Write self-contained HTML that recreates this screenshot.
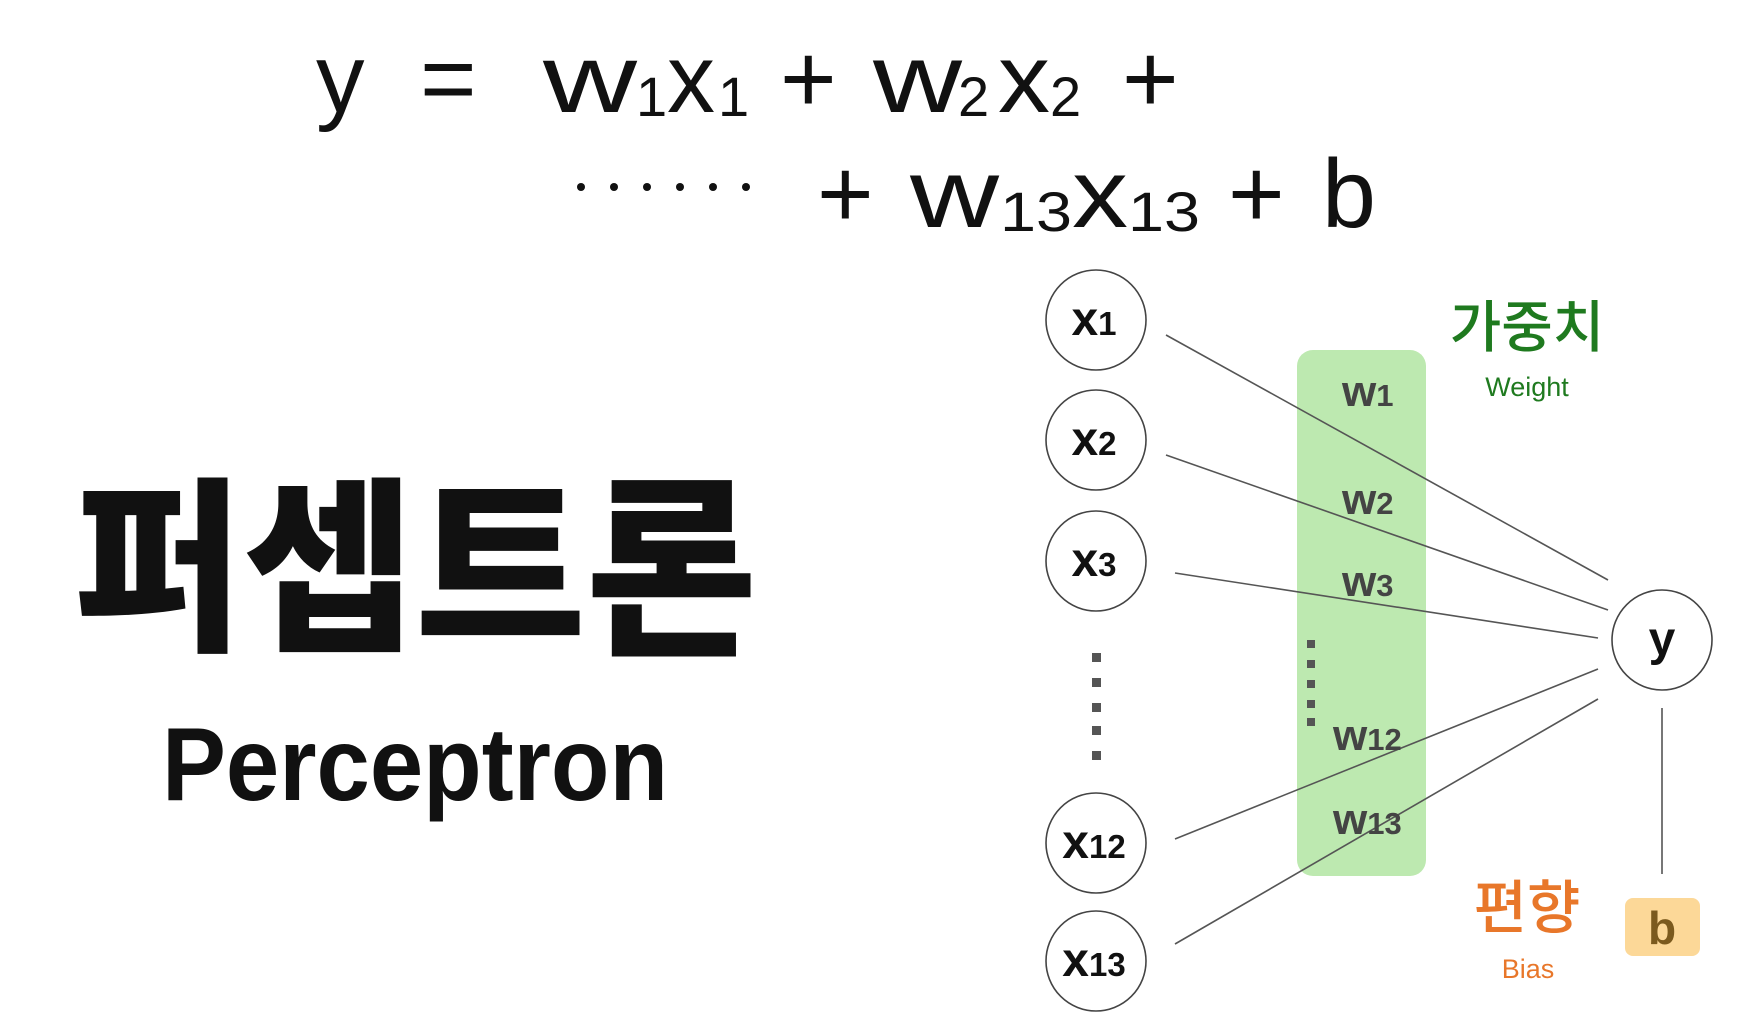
<!DOCTYPE html>
<html><head><meta charset="utf-8"><style>
html,body{margin:0;padding:0;background:#fff;}
svg{display:block;}
</style></head><body>
<svg width="1743" height="1016" viewBox="0 0 1743 1016" xmlns="http://www.w3.org/2000/svg">
<g font-family="Liberation Sans, sans-serif" fill="#111">
  <text x="316" y="112" font-size="97">y</text>
  <text x="420" y="112" font-size="97">=</text>
  <text x="543" y="112" font-size="97" textLength="94" lengthAdjust="spacingAndGlyphs">w</text>
  <text x="636" y="116" font-size="56">1</text>
  <text x="667" y="112" font-size="97" textLength="48" lengthAdjust="spacingAndGlyphs">x</text>
  <text x="718" y="116" font-size="56">1</text>
  <text x="780" y="112" font-size="97">+</text>
  <text x="873" y="112" font-size="97" textLength="89" lengthAdjust="spacingAndGlyphs">w</text>
  <text x="958" y="116" font-size="56">2</text>
  <text x="998" y="112" font-size="97" textLength="52" lengthAdjust="spacingAndGlyphs">x</text>
  <text x="1050" y="116" font-size="56">2</text>
  <text x="1122" y="112" font-size="97">+</text>
  <g fill="#111">
    <circle cx="581" cy="187" r="4"/><circle cx="614" cy="187" r="4"/><circle cx="647" cy="187" r="4"/>
    <circle cx="680" cy="187" r="4"/><circle cx="713" cy="187" r="4"/><circle cx="746" cy="187" r="4"/>
  </g>
  <text x="817" y="227" font-size="97">+</text>
  <text x="910" y="227" font-size="97" textLength="89" lengthAdjust="spacingAndGlyphs">w</text>
  <text x="1000" y="231" font-size="56" textLength="72" lengthAdjust="spacingAndGlyphs">13</text>
  <text x="1072" y="227" font-size="97" textLength="56" lengthAdjust="spacingAndGlyphs">x</text>
  <text x="1128" y="231" font-size="56" textLength="72" lengthAdjust="spacingAndGlyphs">13</text>
  <text x="1228" y="227" font-size="97">+</text>
  <text x="1322" y="227" font-size="97">b</text>
</g>

<text x="73" y="636" font-family="Noto Sans CJK KR, sans-serif" font-weight="900" font-size="188" textLength="684" lengthAdjust="spacingAndGlyphs" fill="#111">퍼셉트론</text>
<text x="162" y="800" font-family="Liberation Sans, sans-serif" font-weight="bold" font-size="104" textLength="506" lengthAdjust="spacingAndGlyphs" fill="#111">Perceptron</text>

<g transform="translate(-7,-2)">
<rect x="1304" y="352" width="129" height="526" rx="16" fill="#bde9b0"/>

<g stroke="#555" stroke-width="1.6" fill="none">
  <line x1="1173" y1="337" x2="1615" y2="582"/>
  <line x1="1173" y1="457" x2="1615" y2="612"/>
  <line x1="1182" y1="575" x2="1605" y2="640"/>
  <line x1="1182" y1="841" x2="1605" y2="671"/>
  <line x1="1182" y1="946" x2="1605" y2="701"/>
  <line x1="1669" y1="710" x2="1669" y2="876"/>
</g>

<g font-family="Liberation Sans, sans-serif" font-weight="bold" fill="#444" font-size="44">
  <text x="1349" y="408">w<tspan font-size="31">1</tspan></text>
  <text x="1349" y="516">w<tspan font-size="31">2</tspan></text>
  <text x="1349" y="598">w<tspan font-size="31">3</tspan></text>
  <text x="1340" y="752">w<tspan font-size="31">12</tspan></text>
  <text x="1340" y="836">w<tspan font-size="31">13</tspan></text>
</g>
<g fill="#555">
  <rect x="1314" y="642" width="8" height="8"/><rect x="1314" y="662" width="8" height="8"/>
  <rect x="1314" y="682" width="8" height="8"/><rect x="1314" y="702" width="8" height="8"/>
  <rect x="1314" y="720" width="8" height="8"/>
</g>

<g fill="#fff" stroke="#444" stroke-width="1.6">
  <circle cx="1103" cy="322" r="50"/>
  <circle cx="1103" cy="442" r="50"/>
  <circle cx="1103" cy="563" r="50"/>
  <circle cx="1103" cy="845" r="50"/>
  <circle cx="1103" cy="963" r="50"/>
  <circle cx="1669" cy="642" r="50"/>
</g>
<g font-family="Liberation Sans, sans-serif" font-weight="bold" fill="#111" font-size="48" text-anchor="middle">
  <text x="1101" y="337">x<tspan font-size="33">1</tspan></text>
  <text x="1101" y="457">x<tspan font-size="33">2</tspan></text>
  <text x="1101" y="578">x<tspan font-size="33">3</tspan></text>
  <text x="1101" y="860">x<tspan font-size="33">12</tspan></text>
  <text x="1101" y="978">x<tspan font-size="33">13</tspan></text>
  <text x="1669" y="657">y</text>
</g>
<g fill="#555">
  <rect x="1099" y="655" width="9" height="9"/><rect x="1099" y="680" width="9" height="9"/>
  <rect x="1099" y="705" width="9" height="9"/><rect x="1099" y="728" width="9" height="9"/>
  <rect x="1099" y="753" width="9" height="9"/>
</g>

<text x="1534" y="349" text-anchor="middle" font-family="Noto Sans CJK KR, sans-serif" font-weight="500" font-size="56" fill="#1f7a1f">가중치</text>
<text x="1534" y="398" text-anchor="middle" font-family="Liberation Sans, sans-serif" font-size="27" fill="#1f7a1f">Weight</text>
<text x="1534" y="930" text-anchor="middle" font-family="Noto Sans CJK KR, sans-serif" font-weight="500" font-size="58" fill="#e8772a">편향</text>
<text x="1535" y="980" text-anchor="middle" font-family="Liberation Sans, sans-serif" font-size="27" fill="#e8772a">Bias</text>

<rect x="1632" y="900" width="75" height="58" rx="8" fill="#fcd898"/>
<text x="1669" y="946" text-anchor="middle" font-family="Liberation Sans, sans-serif" font-weight="bold" font-size="46" fill="#7b5a1e">b</text>
</g>
</svg>
</body></html>
